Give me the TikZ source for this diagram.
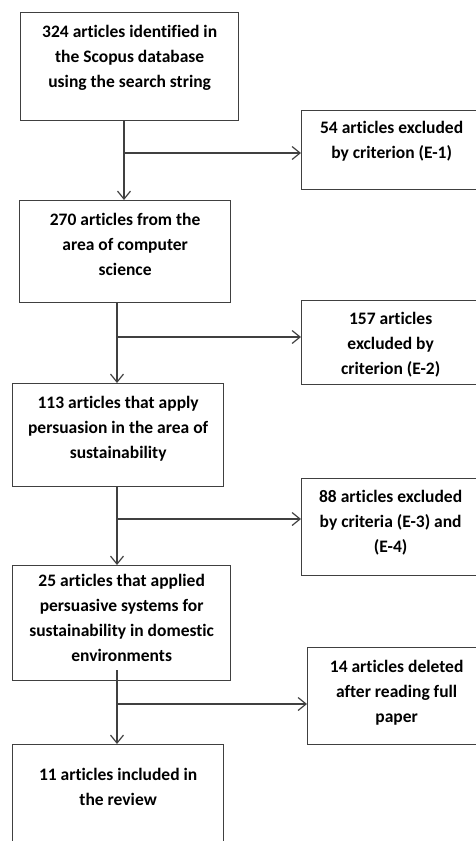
\documentclass[tikz,border=0pt]{standalone}
\usepackage{fontspec}
\setmainfont[Ligatures=NoCommon]{Carlito}
\usetikzlibrary{positioning,arrows.meta}

\begin{document}
\begin{tikzpicture}[x=1pt, y=-1pt,
  box/.style={draw=black!75, line width=1.3pt, anchor=north west, inner sep=0pt},
  txt/.style={align=center, inner sep=0pt, font=\bfseries\fontsize{17.5}{25}\selectfont},
  flow/.style={draw=black!75, line width=1.2pt, -{Straight Barb[length=8pt,width=13pt,line width=1.2pt]}}]
\useasboundingbox (0,0) rectangle (476,841);
\clip (0,0) rectangle (476,841);
% boxes
\node[box, minimum width=218pt, minimum height=108pt] (scopus) at (20,12) {};
\node[box, minimum width=180pt, minimum height=79pt] (excla) at (301,110) {};
\node[box, minimum width=211pt, minimum height=102pt] (cs) at (19,200) {};
\node[box, minimum width=178pt, minimum height=84pt] (exclb) at (301,300) {};
\node[box, minimum width=211pt, minimum height=103pt] (sust) at (12,383) {};
\node[box, minimum width=178pt, minimum height=97pt] (exclc) at (301,478) {};
\node[box, minimum width=218pt, minimum height=115pt] (dom) at (12,565) {};
\node[box, minimum width=178pt, minimum height=97pt] (excld) at (307,647) {};
\node[box, minimum width=211pt, minimum height=110pt] (review) at (12,744) {};
% texts
\node[txt, below=13pt of scopus.north] (scopust) {324 articles identified in\\the Scopus database\\using the search string};
\node[txt, below=11pt of excla.north] (exclat) {54 articles excluded\\by criterion (E-1)};
\node[txt, below=13pt of cs.north] (cst) {270 articles from the\\area of computer\\science};
\node[txt, below=12pt of exclb.north] (exclbt) {157 articles\\excluded by\\criterion (E-2)};
\node[txt, below=13pt of sust.north] (sustt) {113 articles that apply\\persuasion in the area of\\sustainability};
\node[txt, below=12pt of exclc.north] (exclct) {88 articles excluded\\by criteria (E-3) and\\(E-4)};
\node[txt, below=9pt of dom.north] (domt) {25 articles that applied\\persuasive systems for\\sustainability in domestic\\environments};
\node[txt, below=13pt of excld.north] (excldt) {14 articles deleted\\after reading full\\paper};
\node[txt, below=24pt of review.north] (reviewt) {11 articles included in\\the review};
% junctions
\coordinate (ja) at (124,153);
\coordinate (jb) at (117,337);
\coordinate (jc) at (117,519);
\coordinate (jd) at (117,704);
\coordinate (sd) at (117,670);
% connectors
\draw[flow] (scopus.south -| ja) -- (cs.north -| ja);
\draw[flow] (ja) -- (ja -| excla.west);
\draw[flow] (cs.south -| jb) -- (sust.north -| jb);
\draw[flow] (jb) -- (jb -| exclb.west);
\draw[flow] (sust.south -| jc) -- (dom.north -| jc);
\draw[flow] (jc) -- (jc -| exclc.west);
\draw[flow] (sd) -- (review.north -| sd);
\draw[flow] (jd) -- (jd -| excld.west);
\end{tikzpicture}
\end{document}
